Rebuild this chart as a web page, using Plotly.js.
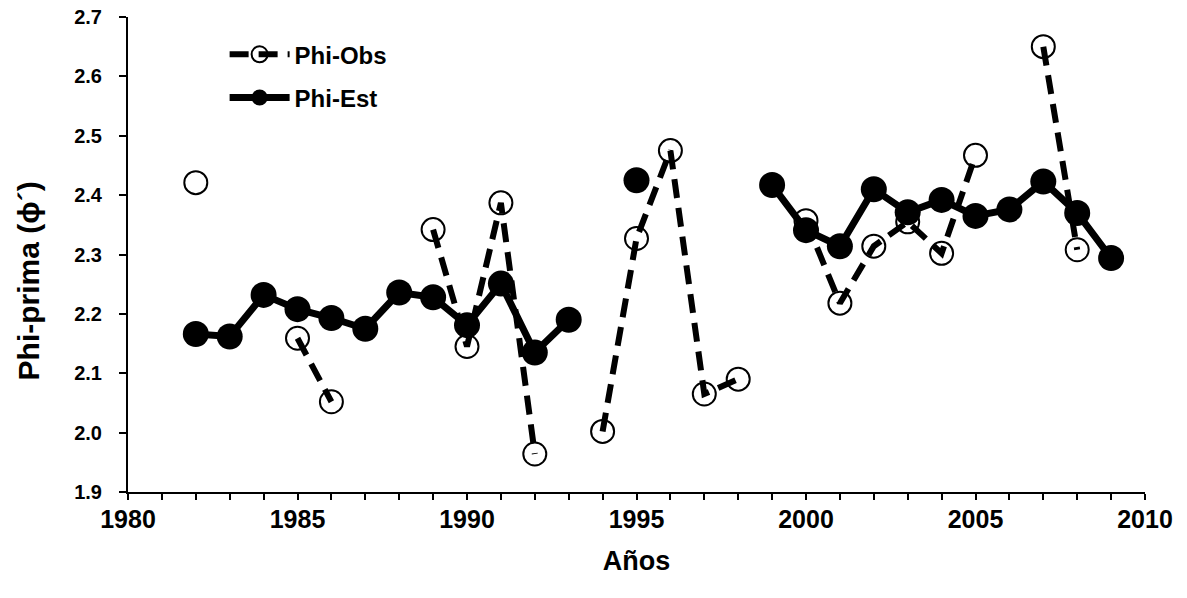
<!DOCTYPE html>
<html>
<head>
<meta charset="utf-8">
<script src="https://cdn.plot.ly/plotly-3.0.1.min.js"></script>
<style>html,body{margin:0;padding:0;background:#fff;}#chart{width:1187px;height:598px;}</style>
</head>
<body>
<div id="chart"></div>
<script>
const years = [1982,1983,1984,1985,1986,1987,1988,1989,1990,1991,1992,1993,1994,1995,1996,1997,1998,1999,2000,2001,2002,2003,2004,2005,2006,2007,2008,2009];
const phiObs = [2.421,null,null,2.159,2.052,null,null,2.342,2.145,2.387,1.964,null,2.002,2.327,2.475,2.065,2.090,null,2.357,2.218,2.314,2.355,2.302,2.467,null,2.650,2.308,null];
const phiEst = [2.166,2.162,2.232,2.208,2.193,2.175,2.236,2.228,2.181,2.251,2.135,2.190,null,2.425,null,null,null,2.417,2.341,2.314,2.410,2.371,2.392,2.365,2.376,2.423,2.370,2.294];
const xTickVals = [1980,1985,1990,1995,2000,2005,2010];
const yTickVals = [1.9,2.0,2.1,2.2,2.3,2.4,2.5,2.6,2.7];
const xTitle = 'Años';
const yTitle = 'Phi-prima (ϕ´)';

const font = 'Arial, "Liberation Sans", sans-serif';

const traces = [
  {
    x: years, y: phiObs, name: 'Phi-Obs', type: 'scatter', mode: 'lines+markers',
    connectgaps: false, legendgroup: 'a',
    line: {color: '#000', width: 6, dash: '19px,10px'},
    marker: {symbol: 'circle-open', size: 23, color: '#000', line: {color: '#000', width: 2}}
  },
  {
    x: years, y: phiEst, name: 'Phi-Est', type: 'scatter', mode: 'lines+markers',
    connectgaps: false, legendgroup: 'b',
    line: {color: '#000', width: 7},
    marker: {symbol: 'circle', size: 26, color: '#000'}
  }
];

const layout = {
  width: 1187, height: 598,
  margin: {l: 128, r: 42, t: 17, b: 106},
  paper_bgcolor: '#fff', plot_bgcolor: '#fff',
  showlegend: true,
  legend: {
    x: 0.095, y: 0.968, xanchor: 'left', yanchor: 'top',
    font: {family: font, size: 24, color: '#000', weight: 'bold'},
    bgcolor: 'rgba(0,0,0,0)', traceorder: 'grouped', tracegroupgap: 9,
    itemwidth: 60
  },
  xaxis: {
    range: [1980, 2010], tickmode: 'array', tickvals: xTickVals, ticktext: xTickVals.map(String),
    showgrid: false, zeroline: false, showline: true, linecolor: '#000', linewidth: 2,
    ticks: 'outside', ticklen: 6, tickwidth: 2, tickcolor: '#000',
    ticklabelstandoff: -2,
    minor: {dtick: 1, tick0: 1980, ticks: 'outside', ticklen: 6, tickwidth: 2, tickcolor: '#000', showgrid: false},
    tickfont: {family: font, size: 25, color: '#000', weight: 'bold'},
    title: {text: xTitle, font: {family: font, size: 27, color: '#000', weight: 'bold'}, standoff: 19}
  },
  yaxis: {
    range: [1.9, 2.7], tickmode: 'array', tickvals: yTickVals, ticktext: yTickVals.map(v => v.toFixed(1)),
    showgrid: false, zeroline: false, showline: true, linecolor: '#000', linewidth: 2,
    ticks: 'outside', ticklen: 7, tickwidth: 2, tickcolor: '#000',
    ticklabelstandoff: 13,
    tickfont: {family: font, size: 20, color: '#000', weight: 'bold'}
  },
  annotations: [{
    text: yTitle, xref: 'paper', yref: 'paper', x: -0.098, y: 0.444,
    xanchor: 'center', yanchor: 'middle', textangle: -90, showarrow: false,
    font: {family: font, size: 30, color: '#000', weight: 'bold'}
  }]
};

Plotly.newPlot('chart', traces, layout, {displayModeBar: false, staticPlot: true});
</script>
</body>
</html>
